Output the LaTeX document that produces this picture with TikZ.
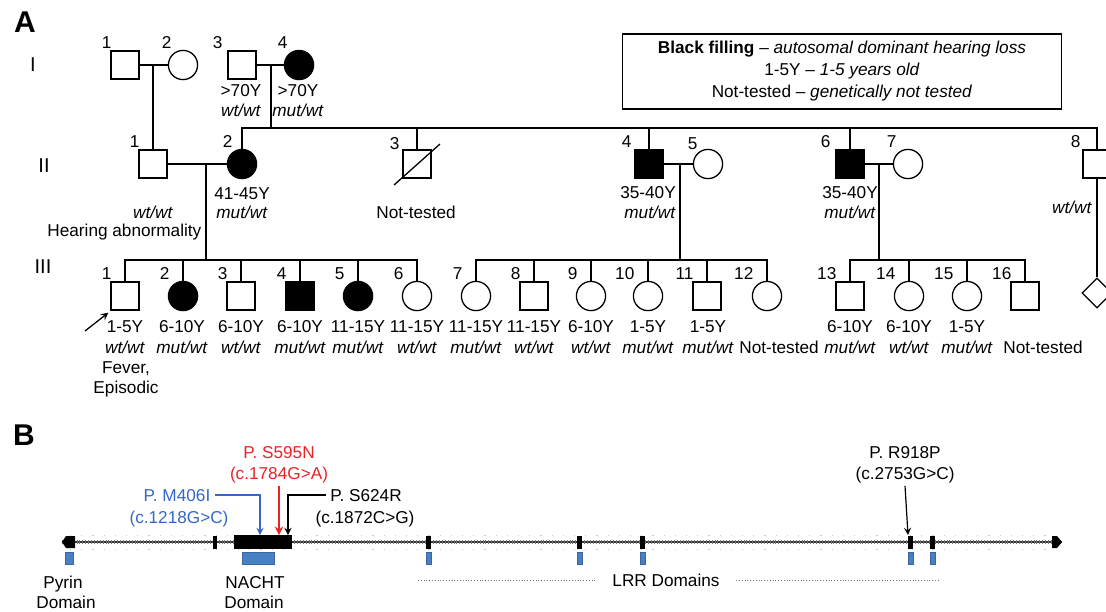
\documentclass[tikz,border=0pt]{standalone}
\usepackage{fontspec}
\setmainfont{Liberation Sans}
\usetikzlibrary{shapes.geometric}
\definecolor{mutred}{RGB}{232,36,40}
\definecolor{mutblue}{RGB}{52,104,196}
\definecolor{domblue}{RGB}{72,128,196}
\begin{document}
\begin{tikzpicture}[x=0.5pt,y=-0.5pt,line width=0.65pt,>=stealth,
  every node/.style={font=\fontsize{8.6}{11}\selectfont},
  lbl/.style={inner sep=0pt,text height=6.2pt,text depth=0pt},
  num/.style={lbl,anchor=south east},
  male/.style={draw,rectangle,minimum size=14pt,inner sep=0pt},
  female/.style={draw,circle,minimum size=14.6pt,inner sep=0pt},
  sickmale/.style={male,fill=black},
  sickfemale/.style={female,fill=black},
  unknown/.style={draw,diamond,minimum width=15pt,minimum height=15pt,inner sep=0pt},
  gen/.style={font=\fontsize{10}{12}\selectfont},
  panel/.style={font=\fontsize{15}{18}\selectfont\bfseries}]
\clip (0,0) rectangle (1106,611);
\node[panel] (pA) at (25,22) {A};
\node[panel] (pB) at (24,435) {B};
\node[gen] (g1) at (33,65) {I};
\node[gen] (g2) at (44,166) {II};
\node[gen] (g3) at (43,267) {III};
\node[draw,align=center,minimum width=219.5pt,minimum height=37.5pt] (legend) at (842,71.5)
  {\textbf{Black filling} – \textit{autosomal dominant hearing loss}\\
   1-5Y – \textit{1-5 years old}\\
   Not-tested – \textit{genetically not tested}};
% generation I
\node[male] (I1) at (125,65) {};
\node[female] (I2) at (183,65) {};
\node[male] (I3) at (242,65) {};
\node[sickfemale] (I4) at (299,65) {};
\node[num] (nI1) at (112,49) {1};
\node[num] (nI2) at (172,49) {2};
\node[num] (nI3) at (223,49) {3};
\node[num] (nI4) at (288,49) {4};
\node[lbl] (aI3) at (241,90) {>70Y};
\node[lbl] (gI3) at (241,110) {\textit{wt/wt}};
\node[lbl] (aI4) at (298,90) {>70Y};
\node[lbl] (gI4) at (298,110) {\textit{mut/wt}};
\coordinate (mI12) at (153,65);
\coordinate (mI34) at (271,65);
\coordinate (sII) at (271,128);
\draw (I1.east) -- (I2.west);
\draw (I3.east) -- (I4.west);
% generation II
\node[male] (II1) at (153,164) {};
\node[sickfemale] (II2) at (242,164) {};
\node[male] (II3) at (417,164) {};
\node[sickmale] (II4) at (649,164) {};
\node[female] (II5) at (708,164) {};
\node[sickmale] (II6) at (850,164) {};
\node[female] (II7) at (908,164) {};
\node[male] (II8) at (1097,164) {};
\node[num] (nII1) at (140,148) {1};
\node[num] (nII2) at (233,148) {2};
\node[num] (nII3) at (400,150) {3};
\node[num] (nII4) at (632,148) {4};
\node[num] (nII5) at (698,150) {5};
\node[num] (nII6) at (831,148) {6};
\node[num] (nII7) at (897,148) {7};
\node[num] (nII8) at (1081,148) {8};
\node[lbl] (gII1) at (153,212) {\textit{wt/wt}};
\node[lbl,anchor=east] (hII1) at (202,230) {Hearing abnormality};
\node[lbl] (aII2) at (242,193) {41-45Y};
\node[lbl] (gII2) at (242,212) {\textit{mut/wt}};
\node[lbl] (tII3) at (416,212) {Not-tested};
\node[lbl] (aII4) at (648,192) {35-40Y};
\node[lbl] (gII4) at (650,212) {\textit{mut/wt}};
\node[lbl] (aII6) at (850,192) {35-40Y};
\node[lbl] (gII6) at (850,212) {\textit{mut/wt}};
\node[lbl] (gII8) at (1072,207) {\textit{wt/wt}};
\draw ([shift={(-23,21)}]II3.center) -- ([shift={(23,-20)}]II3.center);
\draw (mI12) -- (II1.north);
\draw (mI34) -- (sII);
\draw (II2.north) |- (II8.north |- sII) -- (II8.north);
\foreach \p in {II3,II4,II6} \draw (\p.north) -- (\p.north |- sII);
\draw (II1.east) -- (II2.west);
\draw (II4.east) -- (II5.west);
\draw (II6.east) -- (II7.west);
% generation III
\foreach \n/\x/\s in {1/125/male,2/183/sickfemale,3/241/male,4/300/sickmale,5/358/sickfemale,
  6/417/female,7/476/female,8/534/male,9/591/female,10/648/female,11/707/male,12/767/female,
  13/850/male,14/909/female,15/967/female,16/1025/male}
{\node[\s] (III\n) at (\x,296) {};
 \node[num] (nIII\n) at ({\x-13},280) {\n};}
\node[unknown] (dia) at (1097,293) {};
\foreach \x/\a/\g in {125/1-5Y/wt,182/6-10Y/mut,241/6-10Y/wt,300/6-10Y/mut,358/11-15Y/mut,
  417/11-15Y/wt,476/11-15Y/mut,534/11-15Y/wt,591/6-10Y/wt,648/1-5Y/mut,708/1-5Y/mut,
  850/6-10Y/mut,909/6-10Y/wt,967/1-5Y/mut}
{\node[lbl] (age\x) at (\x,326) {\a};
 \node[lbl] (gt\x) at (\x,347) {\textit{\g/wt}};}
\node[lbl] (fev) at (126,367) {Fever,};
\node[lbl] (epi) at (126,387) {Episodic};
\node[lbl] (nt12) at (779,347) {Not-tested};
\node[lbl] (nt16) at (1043,347) {Not-tested};
\coordinate (s1) at (206,260);
\coordinate (s2) at (680,260);
\coordinate (s3) at (879,260);
\draw (II1.east -| s1) -- (s1);
\draw (II4.east -| s2) -- (s2);
\draw (II6.east -| s3) -- (s3);
\draw (III1.north) |- (III6.north |- s1) -- (III6.north);
\foreach \n in {2,...,5} \draw (III\n.north) -- (III\n.north |- s1);
\draw (III7.north) |- (III12.north |- s2) -- (III12.north);
\foreach \n in {8,...,11} \draw (III\n.north) -- (III\n.north |- s2);
\draw (III13.north) |- (III16.north |- s3) -- (III16.north);
\foreach \n in {14,15} \draw (III\n.north) -- (III\n.north |- s3);
\draw (II8.south) -- (dia.north);
\coordinate (prb) at (85,331);
\draw[->] (prb) -- ([shift={(-2,2)}]III1.south west);
% panel B
\coordinate (pl) at (62,542);
\coordinate (pr) at (1062,542);
\foreach \y in {535,549}
  \draw[black!22,line width=0.4pt,dash pattern=on 0.6pt off 5pt] (70,\y) -- (1050,\y);
\draw[line width=0.6pt,black!80] (pl) -- (pr);
\draw[line width=2.2pt,black!55,dash pattern=on 0.35pt off 1.1pt] (pl) -- (pr);
\fill (75,536) -- (66,536) -- (62,542) -- (66,548) -- (75,548) -- cycle;
\fill (1052,536) -- (1057,536) -- (1062,542) -- (1057,548) -- (1052,548) -- cycle;
\foreach \x/\w in {213/4,426/5,577/5,640/5,908/5,930/5} \fill (\x,536) rectangle ++(\w,13);
\fill (234,535) rectangle (292,549);
\foreach \x/\w in {65/8,426/5,577/5,640/5,908/5,930/5,242/32}
  \fill[domblue,draw=domblue!80!black,line width=0.3pt] (\x,552) rectangle ++(\w,12);
\node[lbl,text=mutred] (s595) at (279,452) {P. S595N};
\node[lbl,text=mutred] (s595c) at (279,473) {(c.1784G>A)};
\node[lbl,text=mutblue] (m406) at (177,495) {P. M406I};
\node[lbl,text=mutblue] (m406c) at (179,517) {(c.1218G>C)};
\node[lbl] (s624) at (366,495) {P. S624R};
\node[lbl] (s624c) at (365,517) {(c.1872C>G)};
\node[lbl] (r918) at (905,452) {P. R918P};
\node[lbl] (r918c) at (905,473) {(c.2753G>C)};
\coordinate (t406) at (260,535);
\coordinate (t595) at (279,535);
\coordinate (t624) at (288,535);
\coordinate (t918) at (908,535);
\draw[->,mutblue,line width=0.6pt] ([xshift=2pt]m406.east) -| (t406);
\draw[->,mutred,line width=0.9pt] ([yshift=-3pt]s595c.south) -- (t595);
\draw[->,line width=0.6pt] ([xshift=-2pt]s624.west) -| (t624);
\draw[->,line width=0.6pt] ([yshift=-3pt]r918c.south) -- (t918);
\node[lbl] (pyr1) at (63,582) {Pyrin};
\node[lbl] (pyr2) at (66,602) {Domain};
\node[lbl] (nac1) at (255,582) {NACHT};
\node[lbl] (nac2) at (254,602) {Domain};
\node[lbl] (lrr) at (666,580) {LRR Domains};
\coordinate (lrrl) at (418,580);
\coordinate (lrrr) at (940,580);
\draw[densely dotted,line width=0.4pt,black!55] (lrrl) -- ([xshift=-8pt]lrr.west);
\draw[densely dotted,line width=0.4pt,black!55] ([xshift=8pt]lrr.east) -- (lrrr);
\end{tikzpicture}
\end{document}
